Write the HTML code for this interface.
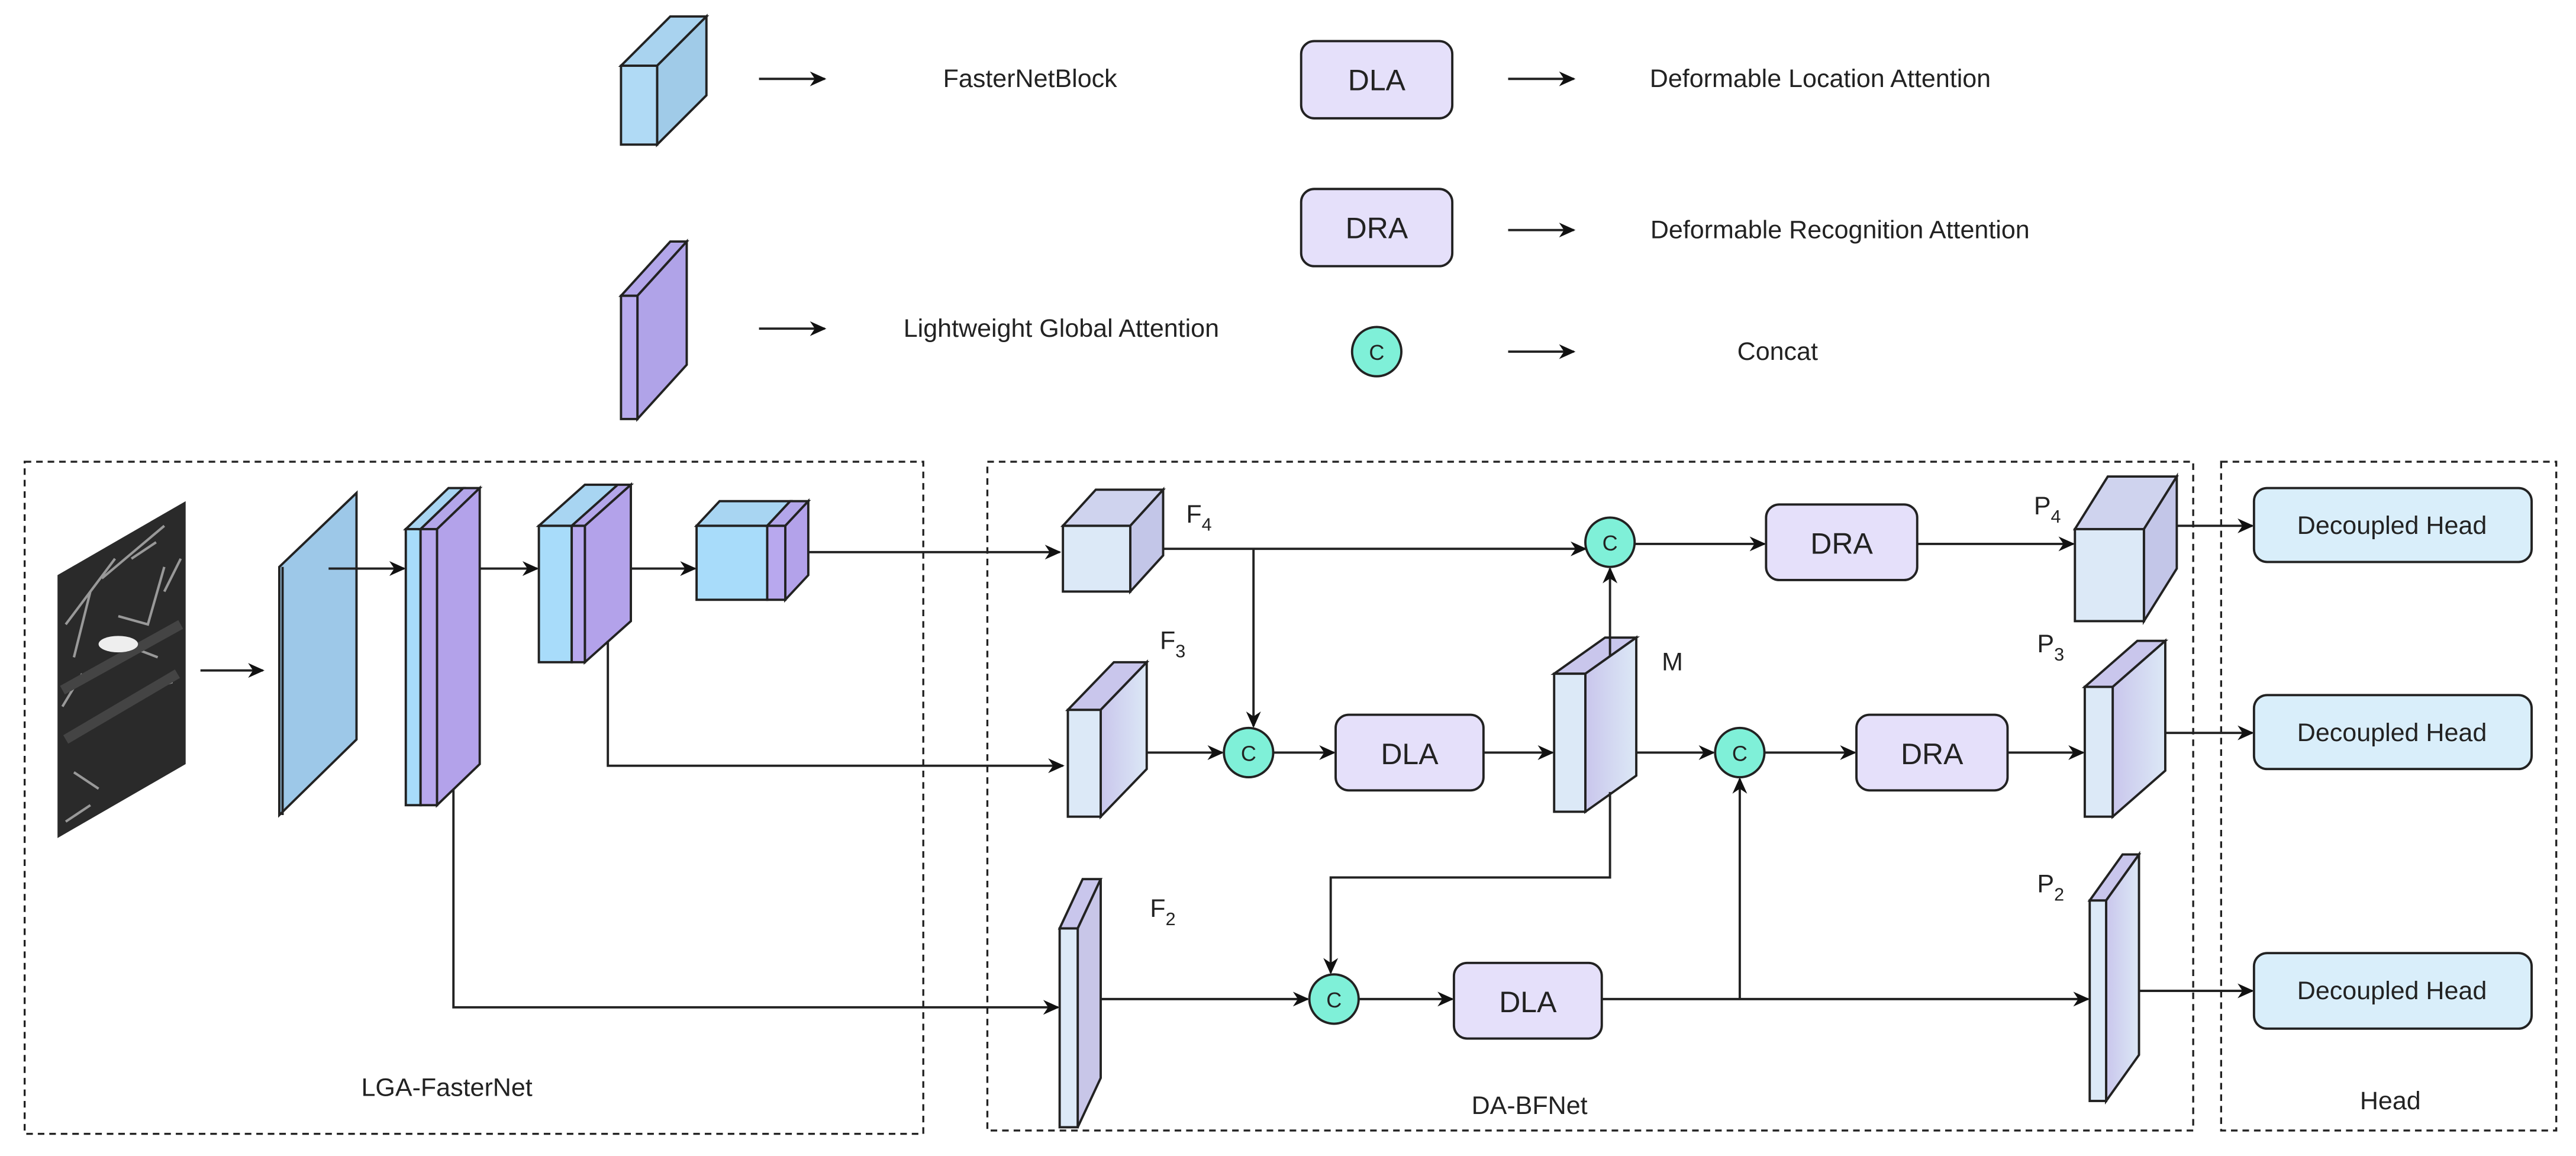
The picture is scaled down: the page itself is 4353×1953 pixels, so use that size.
<!DOCTYPE html>
<html><head><meta charset="utf-8"><style>html,body{margin:0;padding:0;background:#fff}svg{display:block}text{font-family:"Liberation Sans",sans-serif;fill:#222}</style></head><body>
<svg width="4353" height="1953" viewBox="0 0 1568 703.5" xmlns="http://www.w3.org/2000/svg">
<defs>
<marker id="a" markerWidth="10" markerHeight="10" refX="9" refY="5" orient="auto" markerUnits="userSpaceOnUse"><path d="M0,0.5 L10,5 L0,9.5 L3,5 Z" fill="#111"/></marker>
<linearGradient id="g1" x1="0" x2="1"><stop offset="0" stop-color="#c9c6ec"/><stop offset="1" stop-color="#dce8f6"/></linearGradient>
</defs>
<g stroke="#222" stroke-width="1.4" fill="none">
<!-- legend -->
<path d="M378,40 L408,10 L430,10 L400,40Z" fill="#a9d3ef"/><path d="M400,40 L430,10 L430,58 L400,88Z" fill="#a0cbe8"/><rect x="378" y="40" width="22" height="48" fill="#b0daf5"/>
<path d="M378,180 L408,147 L418,147 L388,180Z" fill="#b3a6ea"/><path d="M388,180 L418,147 L418,222 L388,255Z" fill="#b0a3e8"/><rect x="378" y="180" width="10" height="75" fill="#b8abee"/>
<line x1="462" y1="48" x2="502" y2="48" marker-end="url(#a)"/>
<line x1="462" y1="200" x2="502" y2="200" marker-end="url(#a)"/>
<rect x="792" y="25" width="92" height="47" rx="8" fill="#e5e0fa"/>
<rect x="792" y="115" width="92" height="47" rx="8" fill="#e5e0fa"/>
<circle cx="838" cy="214" r="15" fill="#7ff0d8"/>
<line x1="918" y1="48" x2="958" y2="48" marker-end="url(#a)"/>
<line x1="918" y1="140" x2="958" y2="140" marker-end="url(#a)"/>
<line x1="918" y1="214" x2="958" y2="214" marker-end="url(#a)"/>
<!-- dashed boxes -->
<g stroke-dasharray="4,3" stroke-width="1.2"><rect x="15" y="281" width="547" height="409"/><rect x="601" y="281" width="734" height="407"/><rect x="1352" y="281" width="204" height="407"/></g>
<!-- SAR image -->
<path d="M35,350 L113,305 L113,465 L35,510Z" fill="#2a2a2a" stroke="none"/>
<path d="M40,380 L70,340 M45,400 L55,360 M62,352 L100,320 M70,390 L96,400 M72,375 L90,380 L100,345 M45,470 L60,480 M90,420 L105,415 M38,430 L50,410 M80,340 L95,330 M40,500 L55,490 M100,360 L110,340" stroke="#999" stroke-width="1.5"/>
<path d="M38,420 L110,380 M40,450 L108,410" stroke="#444" stroke-width="6"/>
<ellipse cx="72" cy="392" rx="12" ry="5" fill="#eee" stroke="none"/>
<line x1="122" y1="408" x2="160" y2="408" marker-end="url(#a)"/>
<!-- slab1 -->
<path d="M170,345 L217,300 L217,450 L170,496Z" fill="#9dc8e8"/><line x1="172" y1="345" x2="172" y2="496"/>
<line x1="200" y1="346" x2="246" y2="346" marker-end="url(#a)"/>
<!-- block2 -->
<path d="M247,322 L273,297 L282,297 L256,322Z" fill="#a8d5f2"/><rect x="247" y="322" width="9" height="168" fill="#a8dcfa"/>
<path d="M256,322 L282,297 L292,297 L266,322Z" fill="#b3a6ea"/><path d="M266,322 L292,297 L292,465 L266,490Z" fill="#b3a2ea"/><rect x="256" y="322" width="10" height="168" fill="#b8a8ee"/>
<line x1="292" y1="346" x2="327" y2="346" marker-end="url(#a)"/>
<!-- block3 -->
<path d="M328,320 L356,295 L376,295 L348,320Z" fill="#a8d5f2"/><rect x="328" y="320" width="20" height="83" fill="#a8dcfa"/>
<path d="M348,320 L376,295 L384,295 L356,320Z" fill="#b3a6ea"/><path d="M356,320 L384,295 L384,378 L356,403Z" fill="#b3a2ea"/><rect x="348" y="320" width="8" height="83" fill="#b8a8ee"/>
<line x1="384" y1="346" x2="423" y2="346" marker-end="url(#a)"/>
<!-- block4 -->
<path d="M424,320 L438,305 L481,305 L467,320Z" fill="#a8d5f2"/><rect x="424" y="320" width="43" height="45" fill="#a8dcfa"/>
<path d="M467,320 L481,305 L492,305 L478,320Z" fill="#b3a6ea"/><path d="M478,320 L492,305 L492,350 L478,365Z" fill="#b3a2ea"/><rect x="467" y="320" width="11" height="45" fill="#b8a8ee"/>
<!-- backbone connectors -->
<polyline points="492,336 645,336" marker-end="url(#a)"/>
<polyline points="370,390 370,466 647,466" marker-end="url(#a)"/>
<polyline points="276,480 276,613 644,613" marker-end="url(#a)"/>
<!-- F4 -->
<path d="M647,320 L667,298 L708,298 L688,320Z" fill="#cfd3ee"/><path d="M688,320 L708,298 L708,338 L688,360Z" fill="#c3c6e8"/><rect x="647" y="320" width="41" height="40" fill="#dce9f7"/>
<!-- F3 -->
<path d="M650,432 L678,403 L698,403 L670,432Z" fill="#c9c6ec"/><path d="M670,432 L698,403 L698,468 L670,497Z" fill="url(#g1)"/><rect x="650" y="432" width="20" height="65" fill="#dce9f7"/>
<!-- F2 -->
<path d="M645,565 L659,535 L670,535 L656,565Z" fill="#c9c6ec"/><path d="M656,565 L670,535 L670,656 L656,686Z" fill="#c8c6e8"/><rect x="645" y="565" width="11" height="121" fill="#dce9f7"/>
<!-- M -->
<path d="M946,410 L977,388 L996,388 L965,410Z" fill="#c9c6ec"/><path d="M965,410 L996,388 L996,472 L965,494Z" fill="url(#g1)"/><rect x="946" y="410" width="19" height="84" fill="#dce9f7"/>
<!-- P4 -->
<path d="M1263,322 L1283,290 L1325,290 L1305,322Z" fill="#cfd3ee"/><path d="M1305,322 L1325,290 L1325,346 L1305,378Z" fill="#c3c6e8"/><rect x="1263" y="322" width="42" height="56" fill="#dce9f7"/>
<!-- P3 -->
<path d="M1269,418 L1301,390 L1318,390 L1286,418Z" fill="#c9c6ec"/><path d="M1286,418 L1318,390 L1318,469 L1286,497Z" fill="url(#g1)"/><rect x="1269" y="418" width="17" height="79" fill="#dce9f7"/>
<!-- P2 -->
<path d="M1272,548 L1292,520 L1302,520 L1282,548Z" fill="#c9c6ec"/><path d="M1282,548 L1302,520 L1302,642 L1282,670Z" fill="url(#g1)"/><rect x="1272" y="548" width="10" height="122" fill="#dce9f7"/>
<!-- neck connectors -->
<line x1="708" y1="334" x2="965" y2="334" marker-end="url(#a)"/>
<polyline points="763,334 763,442" marker-end="url(#a)"/>
<line x1="995" y1="331" x2="1074" y2="331" marker-end="url(#a)"/>
<line x1="1167" y1="331" x2="1262" y2="331" marker-end="url(#a)"/>
<line x1="980" y1="399" x2="980" y2="346" marker-end="url(#a)"/>
<line x1="698" y1="458" x2="744" y2="458" marker-end="url(#a)"/>
<line x1="775" y1="458" x2="812" y2="458" marker-end="url(#a)"/>
<line x1="903" y1="458" x2="945" y2="458" marker-end="url(#a)"/>
<line x1="996" y1="458" x2="1043" y2="458" marker-end="url(#a)"/>
<line x1="1074" y1="458" x2="1129" y2="458" marker-end="url(#a)"/>
<line x1="1222" y1="458" x2="1268" y2="458" marker-end="url(#a)"/>
<polyline points="980,482 980,534 810,534 810,592" marker-end="url(#a)"/>
<line x1="670" y1="608" x2="796" y2="608" marker-end="url(#a)"/>
<line x1="827" y1="608" x2="884" y2="608" marker-end="url(#a)"/>
<line x1="975" y1="608" x2="1271" y2="608" marker-end="url(#a)"/>
<line x1="1059" y1="608" x2="1059" y2="474" marker-end="url(#a)"/>
<line x1="1325" y1="320" x2="1371" y2="320" marker-end="url(#a)"/>
<line x1="1318" y1="446" x2="1371" y2="446" marker-end="url(#a)"/>
<line x1="1302" y1="603" x2="1371" y2="603" marker-end="url(#a)"/>
<!-- boxes -->
<rect x="1075" y="307" width="92" height="46" rx="8" fill="#e5e0fa"/>
<rect x="813" y="435" width="90" height="46" rx="8" fill="#e5e0fa"/>
<rect x="1130" y="435" width="92" height="46" rx="8" fill="#e5e0fa"/>
<rect x="885" y="586" width="90" height="46" rx="8" fill="#e5e0fa"/>
<circle cx="980" cy="330" r="15" fill="#7ff0d8"/>
<circle cx="760" cy="458" r="15" fill="#7ff0d8"/>
<circle cx="1059" cy="458" r="15" fill="#7ff0d8"/>
<circle cx="812" cy="608" r="15" fill="#7ff0d8"/>
<rect x="1372" y="297" width="169" height="45" rx="8" fill="#d9eefa"/>
<rect x="1372" y="423" width="169" height="45" rx="8" fill="#d9eefa"/>
<rect x="1372" y="580" width="169" height="46" rx="8" fill="#d9eefa"/>
</g>
<g font-size="15.5">
<text x="627" y="53" text-anchor="middle">FasterNetBlock</text>
<text x="646" y="205" text-anchor="middle">Lightweight Global Attention</text>
<text x="1108" y="53" text-anchor="middle">Deformable Location Attention</text>
<text x="1120" y="145" text-anchor="middle">Deformable Recognition Attention</text>
<text x="1082" y="219" text-anchor="middle">Concat</text>
<text x="272" y="667" text-anchor="middle">LGA-FasterNet</text>
<text x="931" y="678" text-anchor="middle">DA-BFNet</text>
<text x="1455" y="675" text-anchor="middle">Head</text>
<text x="1018" y="408" text-anchor="middle">M</text>
<text x="722" y="318">F<tspan font-size="11" dy="5">4</tspan></text>
<text x="706" y="395">F<tspan font-size="11" dy="5">3</tspan></text>
<text x="700" y="558">F<tspan font-size="11" dy="5">2</tspan></text>
<text x="1238" y="313">P<tspan font-size="11" dy="5">4</tspan></text>
<text x="1240" y="397">P<tspan font-size="11" dy="5">3</tspan></text>
<text x="1240" y="543">P<tspan font-size="11" dy="5">2</tspan></text>
<g text-anchor="middle"><text x="1456" y="325">Decoupled Head</text><text x="1456" y="451">Decoupled Head</text><text x="1456" y="608">Decoupled Head</text></g>
</g>
<g font-size="18" text-anchor="middle">
<text x="838" y="55">DLA</text><text x="838" y="145">DRA</text>
<text x="1121" y="337">DRA</text><text x="858" y="465">DLA</text><text x="1176" y="465">DRA</text><text x="930" y="616">DLA</text>
</g>
<g font-size="13" text-anchor="middle"><text x="838" y="219">C</text><text x="980" y="335">C</text><text x="760" y="463">C</text><text x="1059" y="463">C</text><text x="812" y="613">C</text></g>
</svg>
</body></html>
